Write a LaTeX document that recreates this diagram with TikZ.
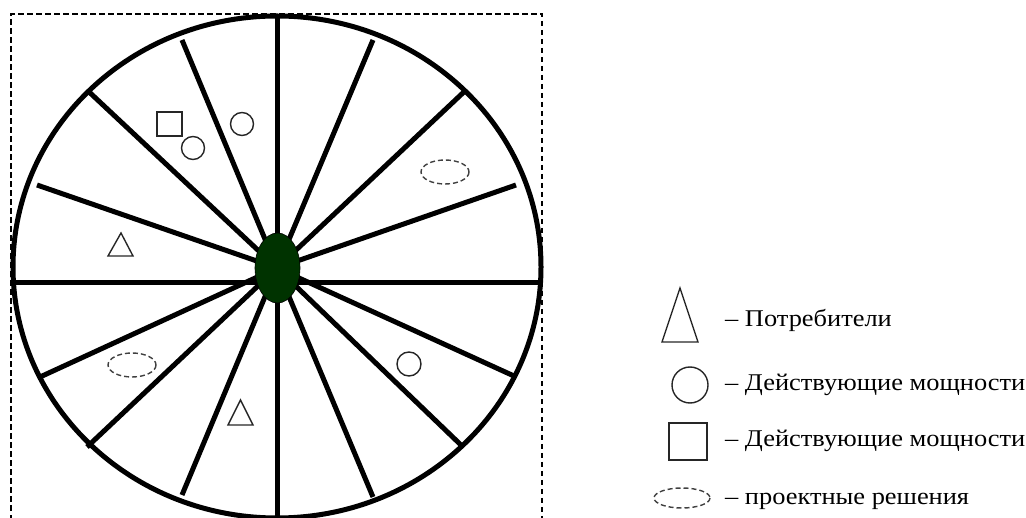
\documentclass[tikz,border=0pt]{standalone}
\usepackage{fontspec}
\setmainfont{Liberation Serif}
\newfontfamily\legfont[FakeStretch=1.1]{Liberation Serif}
\usetikzlibrary{shapes.geometric}
\definecolor{hubgreen}{RGB}{0,51,0}
\begin{document}
\begin{tikzpicture}[x=1pt,y=-1pt,
  spoke/.style={line width=5pt},
  rim/.style={line width=5pt},
  mk/.style={draw=black!85,line width=1.4pt},
  dmk/.style={draw=black!75,line width=1.4pt,dash pattern=on 5pt off 3pt},
  legtext/.style={anchor=base west,inner sep=0pt,font=\legfont\fontsize{24}{28}\selectfont}]
\useasboundingbox (0,0) rectangle (1026,518);
\clip (0,0) rectangle (1026,518);
% frame
\draw[line width=1.4pt,dash pattern=on 5.5pt off 3.5pt] (11,520) -- (11,14) -- (542,14) -- (542,520);
% spokes
\coordinate (c) at (277,268);
\foreach \n/\x/\y in {s1/182/40, s2/373/40, s3/87/90, s4/466/90, s5/37/185, s6/516/185,
  s7/40/377, s8/514/376, s9/87/447, s10/462/446, s11/182/495, s12/373/497}{
  \coordinate (\n) at (\x,\y);
  \draw[spoke] (c) -- (\n);
}
\coordinate (vt) at (277,16);
\coordinate (vb) at (277,520);
\coordinate (hl) at (12,283);
\coordinate (hr) at (541,283);
\draw[spoke] (vt) -- (vb);
\draw[spoke] (hl) -- (hr);
% rim
\draw[rim] (277,267) ellipse [x radius=264, y radius=251];
% hub
\node[ellipse,draw=black,line width=0.6pt,fill=hubgreen,minimum width=45pt,minimum height=70pt,inner sep=0pt] (hub) at (277.5,268) {};
% markers inside wheel
\draw[mk] (157,112) rectangle (182,136);
\draw[mk] (193,148) circle (11.5);
\draw[mk] (242,124) circle (11.5);
\draw[mk] (121,233) -- (133,256) -- (108,256) -- cycle;
\draw[mk] (240.5,400) -- (253,425) -- (228,425) -- cycle;
\draw[mk] (409,364) circle (12);
\draw[dmk] (445,172) ellipse [x radius=24, y radius=12];
\draw[dmk] (132,365) ellipse [x radius=24, y radius=12];
% legend
\draw[mk] (680,288) -- (698,342) -- (662,342) -- cycle;
\node[legtext] (l1) at (725,327) {– Потребители};
\draw[mk] (690,385) circle (18);
\node[legtext] (l2) at (725,391) {– Действующие мощности};
\draw[mk] (669,423) rectangle (707,460);
\node[legtext] (l3) at (725,447) {– Действующие мощности};
\draw[dmk] (682,498) ellipse [x radius=28, y radius=10];
\node[legtext] (l4) at (725,504) {– проектные решения};
\end{tikzpicture}
\end{document}
